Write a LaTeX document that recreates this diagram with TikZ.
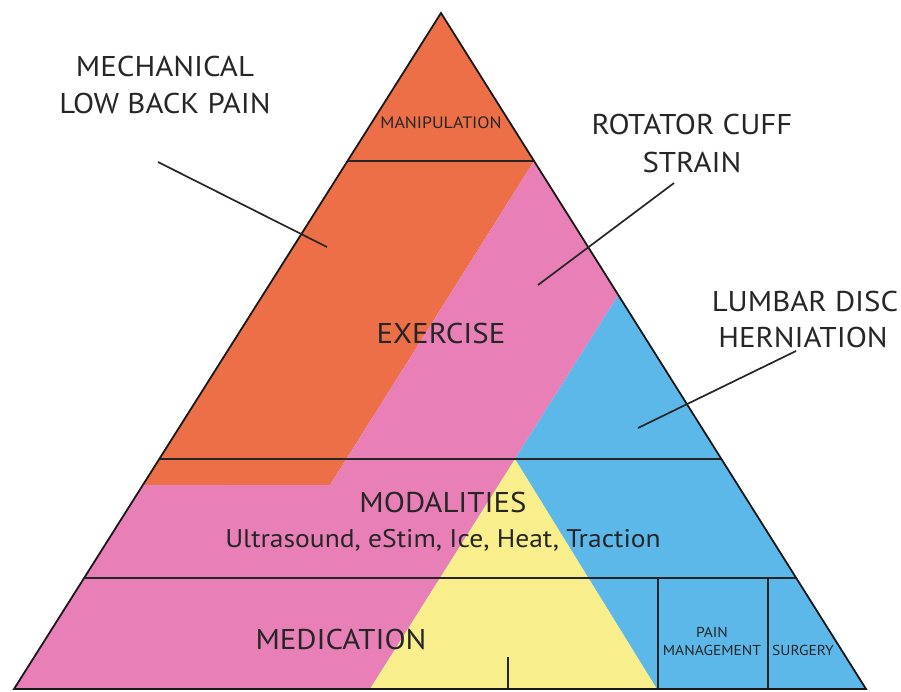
\documentclass[tikz,border=0pt]{standalone}
\usepackage{fontspec}
\setmainfont[FakeStretch=1.08]{PT Sans}
\usetikzlibrary{calc}
\definecolor{cOrange}{HTML}{EC6F47}
\definecolor{cPink}{HTML}{E97FB7}
\definecolor{cBlue}{HTML}{5DB8EA}
\definecolor{cYellow}{HTML}{F8EE8C}
\definecolor{cText}{HTML}{262626}
\begin{document}
\begin{tikzpicture}[x=1pt,y=-1pt,
  big/.style={font=\fontsize{28.6}{34}\selectfont, text=cText, anchor=base, inner sep=0pt},
  mid/.style={font=\fontsize{25.5}{30}\selectfont, text=cText, anchor=base, inner sep=0pt},
  small/.style={font=\fontsize{16.5}{20}\selectfont, text=cText, anchor=base, inner sep=0pt},
  tiny/.style={font=\fontsize{14.4}{17}\selectfont, text=cText, anchor=base, inner sep=0pt},
  edge/.style={draw=black!90, line width=1.8pt, line join=miter},
  sep/.style={draw=black!85, line width=1.6pt},
  leader/.style={draw=black!85, line width=1.7pt}]
\useasboundingbox (0,0) rectangle (901,691);
\fill[white] (0,0) rectangle (901,691);
% main corners
\coordinate (A) at (441,13);
\coordinate (BL) at (14,689);
\coordinate (BR) at (866,689);
% band boundaries
\coordinate (L1) at ($(A)!0.2189!(BL)$);
\coordinate (R1) at ($(A)!0.2189!(BR)$);
\coordinate (L2) at ($(A)!0.6598!(BL)$);
\coordinate (R2) at ($(A)!0.6598!(BR)$);
\coordinate (L3) at ($(A)!0.8358!(BL)$);
\coordinate (R3) at ($(A)!0.8358!(BR)$);
% colour region corners
\coordinate (Lo) at ($(A)!0.6982!(BL)$);
\coordinate (Oc) at (330,485);
\coordinate (Rp) at ($(A)!0.4172!(BR)$);
\coordinate (Pb) at (370,689);
\coordinate (Ya) at (515,459);
\coordinate (Yb) at (657,689);
% fills
\fill[cOrange] (A) -- (Lo) -- (Oc) -- (R1) -- cycle;
\fill[cPink] (R1) -- (Oc) -- (Lo) -- (BL) -- (Pb) -- (Rp) -- cycle;
\fill[cBlue] (Rp) -- (BR) -- (Pb) -- cycle;
\fill[cYellow] (Ya) -- (Yb) -- (Pb) -- cycle;
% lines
\draw[sep] (L1) -- (R1);
\draw[sep] (L2) -- (R2);
\draw[sep] (L3) -- (R3);
\coordinate (V1t) at (658,578); \coordinate (V1b) at (658,689);
\coordinate (V2t) at (768,578); \coordinate (V2b) at (768,689);
\coordinate (V3t) at (508,657); \coordinate (V3b) at (508,689);
\draw[sep] (V1t) -- (V1b);
\draw[sep] (V2t) -- (V2b);
\draw[sep] (V3t) -- (V3b);
\draw[edge] (BL) -- (A) -- (BR) -- cycle;
% texts
\node[big] (mech1) at (165,76) {MECHANICAL};
\node[big] (mech2) at (165,113) {LOW BACK PAIN};
\node[big] (rot1) at (692,134) {ROTATOR CUFF};
\node[big] (rot2) at (692,172) {STRAIN};
\node[big] (lum1) at (805,311) {LUMBAR DISC};
\node[big] (lum2) at (803,347) {HERNIATION};
\node[small] (manip) at (441,128) {MANIPULATION};
\node[big] (exer) at (441,343) {EXERCISE};
\node[big] (mod) at (443,512) {MODALITIES};
\node[mid] (ultra) at (443,547) {Ultrasound, eStim, Ice, Heat, Traction};
\node[big] (med) at (341,649) {MEDICATION};
\node[tiny] (pain1) at (712,637) {PAIN};
\node[tiny] (pain2) at (712,655) {MANAGEMENT};
\node[tiny] (surg) at (803,655) {SURGERY};
% leaders
\coordinate (mechS) at (158,162); \coordinate (mechE) at (327,247);
\coordinate (rotS) at (674,183); \coordinate (rotE) at (538,285);
\coordinate (lumS) at (796,351); \coordinate (lumE) at (638,428);
\draw[leader] (mechS) -- (mechE);
\draw[leader] (rotS) -- (rotE);
\draw[leader] (lumS) -- (lumE);
\end{tikzpicture}
\end{document}
